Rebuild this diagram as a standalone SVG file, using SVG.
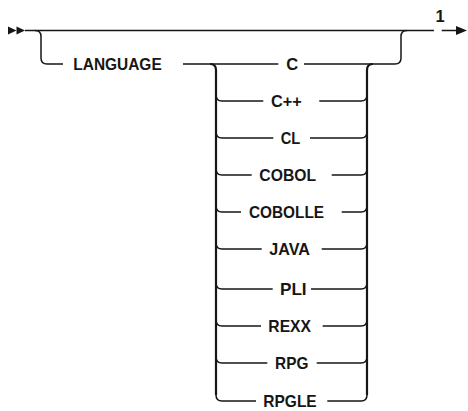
<svg xmlns="http://www.w3.org/2000/svg" width="468" height="411" viewBox="0 0 468 411">
<style>
.ln{fill:none;stroke:#161616;stroke-width:1.5}
.tr{fill:none;stroke:#161616;stroke-width:2.2}
.ah{fill:#161616}
text{font-family:"Liberation Sans",Arial,sans-serif;font-weight:bold;font-size:16.5px;fill:#161616;text-anchor:middle}
</style>
<rect width="468" height="411" fill="#ffffff"/>
<g id="connectors">
<polygon class="ah" points="8,26.5 16.5,30.5 8,34.5"/>
<polygon class="ah" points="16.5,26.5 25,30.5 16.5,34.5"/>
<path class="ln" d="M25,30.5 H434 M441.7,30.5 H457"/>
<polygon class="ah" points="456,26 467,30.5 456,35"/>
<path class="ln" d="M35,30.5 Q41,30.5 41,36.5 V58 Q41,64 47,64 H63"/>
<path class="ln" d="M183,64 H278.3 M304,64 H395 Q401,64 401,58 V36.5 Q401,30.5 407,30.5"/>
<path class="tr" d="M210,64 Q216,64 216,70 V395"/>
<path class="tr" d="M373,64 Q367,64 367,70 V395"/>
<path class="ln" d="M216,95 Q216,101 222,101 H263.3 M319.3,101 H361 Q367,101 367,95"/>
<path class="ln" d="M216,132 Q216,138 222,138 H273.3 M310,138 H361 Q367,138 367,132"/>
<path class="ln" d="M216,169 Q216,175 222,175 H251.7 M331.7,175 H361 Q367,175 367,169"/>
<path class="ln" d="M216,206 Q216,212 222,212 H241 M341.7,212 H361 Q367,212 367,206"/>
<path class="ln" d="M216,243 Q216,249 222,249 H261.7 M321.7,249 H361 Q367,249 367,243"/>
<path class="ln" d="M216,283 Q216,289 222,289 H272.7 M311,289 H361 Q367,289 367,283"/>
<path class="ln" d="M216,320 Q216,326 222,326 H261 M322.7,326 H361 Q367,326 367,320"/>
<path class="ln" d="M216,357 Q216,363 222,363 H267.3 M316.7,363 H361 Q367,363 367,357"/>
<path class="ln" d="M216,395 Q216,401 222,401 H256 M327.3,401 H361 Q367,401 367,395"/>
</g>
<g id="note-1"><text x="440" y="22">1</text></g>
<g id="kw-language"><text x="117.5" y="69.5" textLength="88.4" lengthAdjust="spacingAndGlyphs">LANGUAGE</text></g>
<g id="opt-c"><text x="292.2" y="69.5">C</text></g>
<g id="opt-cpp"><text x="286.3" y="106.5" textLength="30.7" lengthAdjust="spacingAndGlyphs">C++</text></g>
<g id="opt-cl"><text x="290.5" y="143.5" textLength="19.5" lengthAdjust="spacingAndGlyphs">CL</text></g>
<g id="opt-cobol"><text x="287.7" y="180.5" textLength="56.7" lengthAdjust="spacingAndGlyphs">COBOL</text></g>
<g id="opt-cobolle"><text x="286.5" y="217.5" textLength="75" lengthAdjust="spacingAndGlyphs">COBOLLE</text></g>
<g id="opt-java"><text x="289.7" y="254.5" textLength="40.7" lengthAdjust="spacingAndGlyphs">JAVA</text></g>
<g id="opt-pli"><text x="293.3" y="294.5" textLength="26.7" lengthAdjust="spacingAndGlyphs">PLI</text></g>
<g id="opt-rexx"><text x="289.7" y="331.5" textLength="42.7" lengthAdjust="spacingAndGlyphs">REXX</text></g>
<g id="opt-rpg"><text x="291.7" y="368.5" textLength="33.3" lengthAdjust="spacingAndGlyphs">RPG</text></g>
<g id="opt-rpgle"><text x="290" y="406.5" textLength="53.4" lengthAdjust="spacingAndGlyphs">RPGLE</text></g>
</svg>
